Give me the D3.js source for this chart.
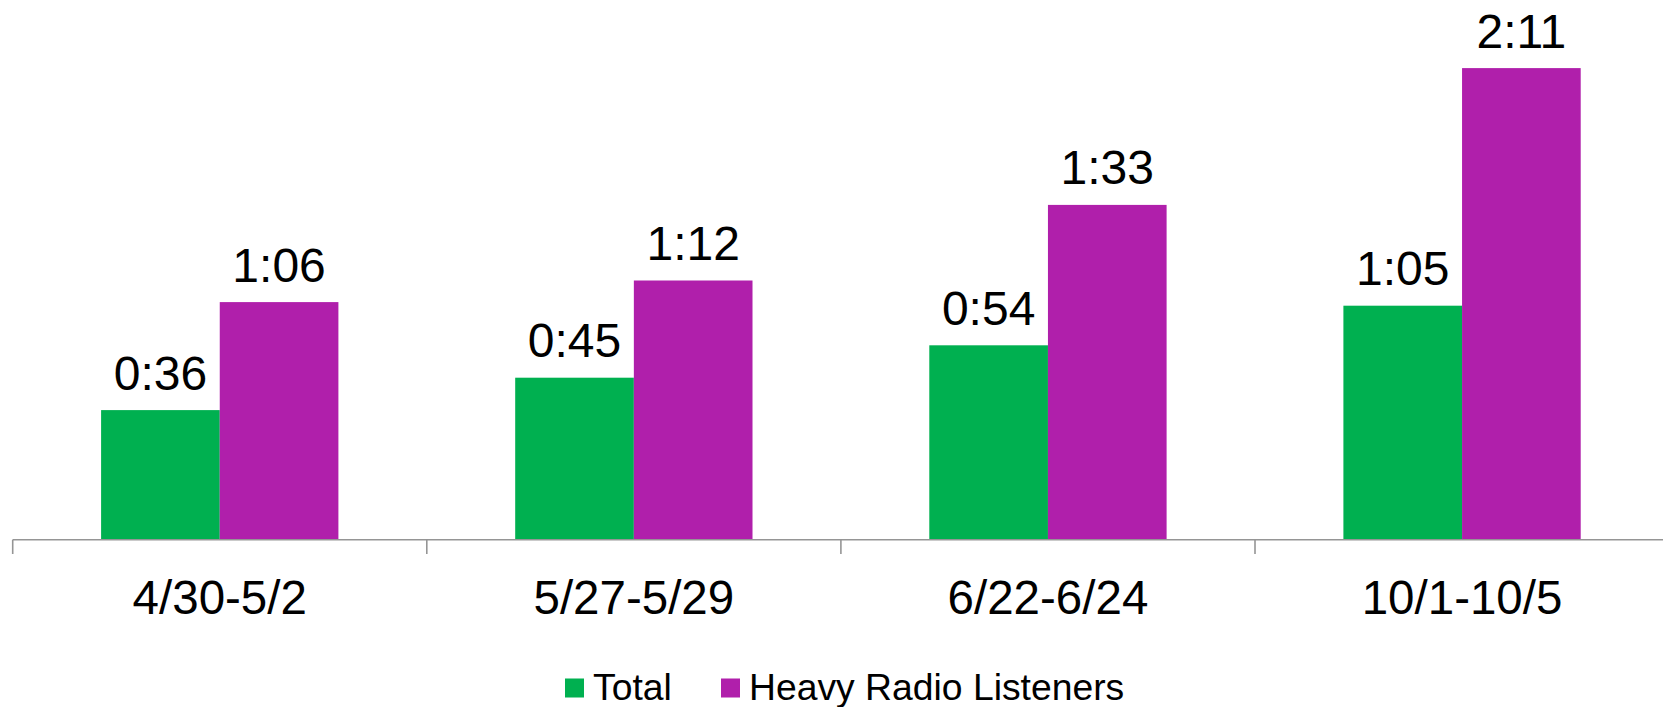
<!DOCTYPE html>
<html>
<head>
<meta charset="utf-8">
<script src="https://cdn.jsdelivr.net/npm/d3@7"></script>
<style>
  html, body { margin: 0; padding: 0; background: #ffffff; }
  svg { display: block; font-family: "Liberation Sans", Arial, sans-serif; }
</style>
</head>
<body>
<svg id="chart" width="1663" height="707"></svg>
<script>
// Average listening time per period, in minutes
const categories = ["4/30-5/2", "5/27-5/29", "6/22-6/24", "10/1-10/5"];
const seriesNames = ["Total", "Heavy Radio Listeners"];
const totalMinutes = [36, 45, 54, 65];
const heavyMinutes = [66, 72, 93, 131];
const seriesColors = ["#00B050", "#B01FAB"];

const seriesValues = [totalMinutes, heavyMinutes];
const rows = categories.map((c, i) => ({
  category: c,
  values: seriesNames.map((s, j) => ({ series: s, value: seriesValues[j][i], color: seriesColors[j] }))
}));

const fmt = m => Math.floor(m / 60) + ":" + String(m % 60).padStart(2, "0");

const svg = d3.select("#chart");
const baseY = 539.7;

const x = d3.scaleBand().domain(categories).range([12.7, 1669.1]).paddingInner(0).paddingOuter(0);
const x1 = d3.scaleBand().domain(seriesNames).range([0, x.bandwidth()]).paddingInner(0).paddingOuter(0.745);
const y = d3.scaleLinear().domain([0, 150]).range([baseY, baseY - 150 * 3.6]);

// bars
const groups = svg.append("g").selectAll("g").data(rows).join("g")
  .attr("transform", d => `translate(${x(d.category)},0)`);

groups.selectAll("rect").data(d => d.values).join("rect")
  .attr("x", d => x1(d.series))
  .attr("y", d => y(d.value))
  .attr("width", x1.bandwidth())
  .attr("height", d => baseY - y(d.value))
  .attr("fill", d => d.color);

// value labels
groups.selectAll("text").data(d => d.values).join("text")
  .attr("x", d => x1(d.series) + x1.bandwidth() / 2)
  .attr("y", d => y(d.value) - 20.6)
  .attr("text-anchor", "middle")
  .attr("font-size", 48)
  .attr("fill", "#000")
  .text(d => fmt(d.value));

// category axis: baseline with ticks at band boundaries
const axisG = svg.append("g");
axisG.append("line")
  .attr("x1", x.range()[0]).attr("x2", 1663)
  .attr("y1", baseY).attr("y2", baseY)
  .attr("stroke", "#959595").attr("stroke-width", 1.6);
axisG.selectAll("line.tick").data(categories).join("line")
  .attr("class", "tick")
  .attr("x1", d => x(d)).attr("x2", d => x(d))
  .attr("y1", baseY).attr("y2", baseY + 14.3)
  .attr("stroke", "#959595").attr("stroke-width", 1.6);

const labelAxis = d3.axisBottom(x).tickSize(0).tickPadding(0);
const labelG = svg.append("g").attr("transform", `translate(0,${baseY})`).call(labelAxis);
labelG.select(".domain").remove();
labelG.selectAll(".tick text")
  .attr("font-family", "Liberation Sans, Arial, sans-serif")
  .attr("font-size", 47.5)
  .attr("fill", "#000")
  .attr("dy", null)
  .attr("y", 614.5 - baseY);

// legend
const legend = svg.append("g");
const legendItems = [
  { name: seriesNames[0], color: seriesColors[0], x: 565 },
  { name: seriesNames[1], color: seriesColors[1], x: 721 }
];
const li = legend.selectAll("g").data(legendItems).join("g")
  .attr("transform", d => `translate(${d.x},0)`);
li.append("rect").attr("x", 0).attr("y", 678.5).attr("width", 19).attr("height", 19).attr("fill", d => d.color);
li.append("text").attr("x", 28).attr("y", 700).attr("font-size", 37.3).attr("fill", "#000").text(d => d.name);
</script>
</body>
</html>
